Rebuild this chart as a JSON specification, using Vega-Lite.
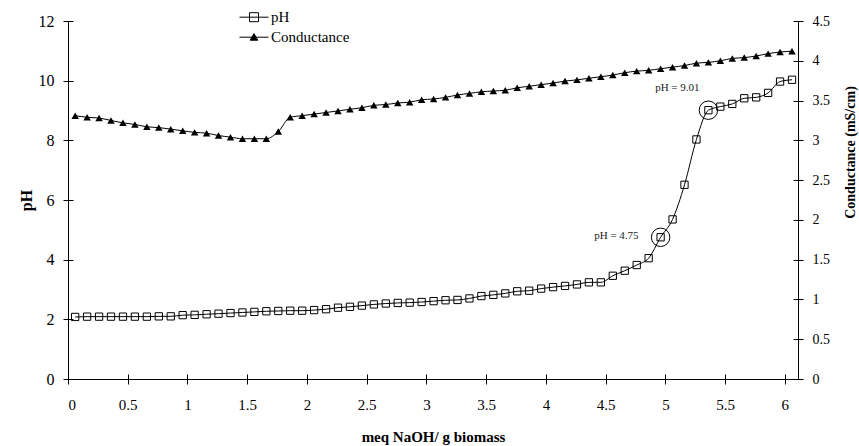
{
  "$schema": "https://vega.github.io/schema/vega-lite/v6.json",
  "width": 730,
  "height": 358,
  "autosize": {"type": "none"},
  "padding": {"left": 68, "top": 21, "right": 61, "bottom": 67},
  "background": "white",
  "config": {
    "view": {"stroke": null},
    "font": "Liberation Serif",
    "axis": {
      "labelFont": "Liberation Serif",
      "titleFont": "Liberation Serif",
      "labelColor": "black",
      "titleColor": "black",
      "domainColor": "black",
      "tickColor": "black",
      "domainWidth": 1,
      "tickWidth": 1,
      "tickSize": 5,
      "grid": false,
      "titleFontWeight": "bold",
      "titleFontSize": 15
    }
  },
  "datasets": {
    "series": [
      {"x": 0.06, "pH": 2.08, "cond": 3.31},
      {"x": 0.16, "pH": 2.09, "cond": 3.29},
      {"x": 0.26, "pH": 2.09, "cond": 3.28},
      {"x": 0.36, "pH": 2.09, "cond": 3.25},
      {"x": 0.46, "pH": 2.09, "cond": 3.22},
      {"x": 0.56, "pH": 2.09, "cond": 3.2},
      {"x": 0.66, "pH": 2.09, "cond": 3.17},
      {"x": 0.76, "pH": 2.1, "cond": 3.16},
      {"x": 0.86, "pH": 2.1, "cond": 3.14},
      {"x": 0.96, "pH": 2.14, "cond": 3.12},
      {"x": 1.06, "pH": 2.15, "cond": 3.1},
      {"x": 1.16, "pH": 2.17, "cond": 3.09},
      {"x": 1.26, "pH": 2.19, "cond": 3.06},
      {"x": 1.36, "pH": 2.21, "cond": 3.04},
      {"x": 1.46, "pH": 2.23, "cond": 3.02},
      {"x": 1.56, "pH": 2.25, "cond": 3.02},
      {"x": 1.66, "pH": 2.27, "cond": 3.02},
      {"x": 1.76, "pH": 2.28, "cond": 3.11},
      {"x": 1.86, "pH": 2.29, "cond": 3.29},
      {"x": 1.96, "pH": 2.29, "cond": 3.31},
      {"x": 2.06, "pH": 2.31, "cond": 3.33},
      {"x": 2.16, "pH": 2.34, "cond": 3.35},
      {"x": 2.26, "pH": 2.39, "cond": 3.37},
      {"x": 2.36, "pH": 2.42, "cond": 3.39},
      {"x": 2.46, "pH": 2.46, "cond": 3.41},
      {"x": 2.56, "pH": 2.5, "cond": 3.44},
      {"x": 2.66, "pH": 2.53, "cond": 3.45},
      {"x": 2.76, "pH": 2.55, "cond": 3.47},
      {"x": 2.86, "pH": 2.56, "cond": 3.48},
      {"x": 2.96, "pH": 2.58, "cond": 3.51},
      {"x": 3.06, "pH": 2.61, "cond": 3.52},
      {"x": 3.16, "pH": 2.64, "cond": 3.54},
      {"x": 3.26, "pH": 2.65, "cond": 3.57},
      {"x": 3.36, "pH": 2.7, "cond": 3.59},
      {"x": 3.46, "pH": 2.78, "cond": 3.61},
      {"x": 3.56, "pH": 2.82, "cond": 3.62},
      {"x": 3.66, "pH": 2.87, "cond": 3.63},
      {"x": 3.76, "pH": 2.94, "cond": 3.66},
      {"x": 3.86, "pH": 2.96, "cond": 3.68},
      {"x": 3.96, "pH": 3.03, "cond": 3.7},
      {"x": 4.06, "pH": 3.08, "cond": 3.72},
      {"x": 4.16, "pH": 3.12, "cond": 3.745},
      {"x": 4.26, "pH": 3.17, "cond": 3.76},
      {"x": 4.36, "pH": 3.24, "cond": 3.78},
      {"x": 4.46, "pH": 3.24, "cond": 3.8},
      {"x": 4.56, "pH": 3.46, "cond": 3.82},
      {"x": 4.66, "pH": 3.63, "cond": 3.85},
      {"x": 4.76, "pH": 3.82, "cond": 3.87},
      {"x": 4.86, "pH": 4.05, "cond": 3.88},
      {"x": 4.96, "pH": 4.75, "cond": 3.9},
      {"x": 5.06, "pH": 5.35, "cond": 3.92},
      {"x": 5.16, "pH": 6.51, "cond": 3.94},
      {"x": 5.26, "pH": 8.03, "cond": 3.97},
      {"x": 5.36, "pH": 9.01, "cond": 3.98},
      {"x": 5.46, "pH": 9.13, "cond": 4.0},
      {"x": 5.56, "pH": 9.22, "cond": 4.03},
      {"x": 5.66, "pH": 9.41, "cond": 4.04},
      {"x": 5.76, "pH": 9.44, "cond": 4.06},
      {"x": 5.86, "pH": 9.59, "cond": 4.09},
      {"x": 5.96, "pH": 9.97, "cond": 4.11},
      {"x": 6.06, "pH": 10.03, "cond": 4.12}
    ],
    "labels": [
      {"x": 4.59, "pH": 4.79, "label": "pH = 4.75"},
      {"x": 5.1, "pH": 9.77, "label": "pH = 9.01"}
    ]
  },
  "data": {"name": "series"},
  "encoding": {
    "x": {
      "field": "x",
      "type": "quantitative",
      "scale": {"domain": [0, 6.11], "nice": false, "zero": false},
      "axis": {
        "values": [0, 0.5, 1, 1.5, 2, 2.5, 3, 3.5, 4, 4.5, 5, 5.5, 6],
        "format": "~g",
        "title": "meq NaOH/ g biomass",
        "labelFontSize": 15,
        "labelPadding": 13,
        "titleX": 365,
        "titleY": 57,
        "titleAlign": "center",
        "titleBaseline": "middle",
        "encoding": {"ticks": {"y": {"value": -5}, "y2": {"value": 5}}}
      }
    }
  },
  "layer": [
    {
      "encoding": {
        "y": {
          "field": "pH",
          "type": "quantitative",
          "title": "pH",
          "scale": {"domain": [0, 12], "nice": false},
          "axis": {
            "orient": "left",
            "values": [0, 2, 4, 6, 8, 10, 12],
            "labelFontSize": 16,
            "labelPadding": 9,
            "titleX": -42,
            "titleY": 179,
            "titleAngle": 270,
            "titleAlign": "center",
            "titleBaseline": "middle",
            "titleFontSize": 16,
            "encoding": {"ticks": {"x": {"value": -5}, "x2": {"value": 5}}}
          }
        }
      },
      "layer": [
        {
          "mark": {"type": "line", "color": "black", "strokeWidth": 1, "interpolate": "monotone"}
        },
        {
          "mark": {"type": "point", "shape": "square", "filled": false, "strokeWidth": 1, "size": 53, "opacity": 1},
          "encoding": {
            "color": {
              "datum": "pH",
              "type": "nominal",
              "scale": {"domain": ["pH", "Conductance"], "range": ["black", "black"]},
              "legend": {
                "orient": "none",
                "legendX": 177.5,
                "legendY": -12.3,
                "title": null,
                "padding": 0,
                "symbolSize": 256,
                "labelOffset": 8.5,
                "rowPadding": 3,
                "labelFont": "Liberation Serif",
                "labelFontSize": 15,
                "labelColor": "black",
                "labelBaseline": "middle",
                "symbolStrokeWidth": 1,
                "encoding": {
                  "symbols": {
                    "shape": {
                      "condition": {"test": "datum.value === 'pH'", "value": "M-1.8125,0H1.8125M-0.5625,-0.5625H0.5625V0.5625H-0.5625Z"},
                      "value": "M-1.8125,0H1.8125M0,-0.45L0.475,0.375H-0.475Z"
                    },
                    "fillOpacity": {
                      "condition": {"test": "datum.value === 'pH'", "value": 0},
                      "value": 1
                    },
                    "stroke": {"value": "black"},
                    "strokeWidth": {"value": 1},
                    "opacity": {"value": 1}
                  }
                }
              }
            }
          }
        },
        {
          "transform": [{"filter": "datum.pH == 4.75 || datum.pH == 9.01"}],
          "mark": {"type": "point", "shape": "circle", "filled": false, "color": "black", "strokeWidth": 1, "size": 340, "opacity": 1}
        },
        {
          "data": {"name": "labels"},
          "mark": {"type": "text", "font": "Liberation Serif", "fontSize": 11, "align": "center", "baseline": "middle", "color": "#222"},
          "encoding": {"text": {"field": "label"}}
        }
      ]
    },
    {
      "encoding": {
        "y": {
          "field": "cond",
          "type": "quantitative",
          "title": "Conductance (mS/cm)",
          "scale": {"domain": [0, 4.5], "nice": false},
          "axis": {
            "orient": "right",
            "values": [0, 0.5, 1, 1.5, 2, 2.5, 3, 3.5, 4, 4.5],
            "format": "~g",
            "labelFontSize": 14,
            "labelPadding": 9,
            "titleX": 52,
            "titleY": 131,
            "titleAngle": 270,
            "titleAlign": "center",
            "titleBaseline": "middle",
            "titleFontSize": 14,
            "encoding": {"ticks": {"x": {"value": -5}, "x2": {"value": 5}}}
          }
        }
      },
      "layer": [
        {
          "mark": {"type": "line", "color": "black", "strokeWidth": 1, "interpolate": "monotone"}
        },
        {
          "mark": {"type": "point", "shape": "triangle-up", "filled": true, "size": 56, "opacity": 1},
          "encoding": {"color": {"datum": "Conductance", "type": "nominal"}}
        }
      ]
    }
  ],
  "resolve": {"scale": {"y": "independent"}}
}
